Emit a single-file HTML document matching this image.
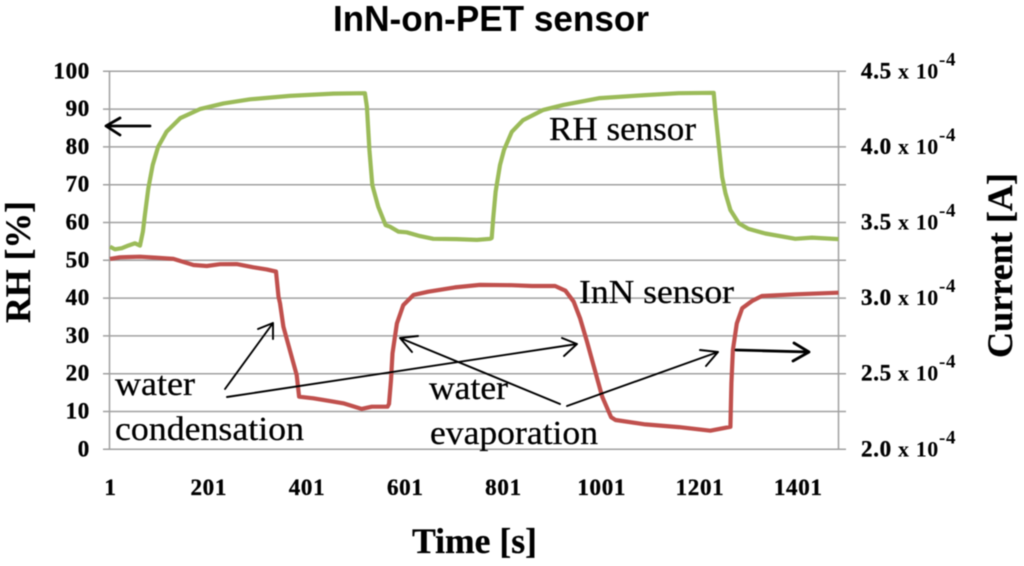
<!DOCTYPE html>
<html lang="en">
<head>
<meta charset="utf-8">
<title>InN-on-PET sensor</title>
<style>
html,body{margin:0;padding:0;background:#fff;width:1024px;height:566px;overflow:hidden}
svg{display:block;filter:blur(.45px)}
text{fill:#000}
.tick{font:bold 23px "Liberation Serif",serif;letter-spacing:.7px;stroke:#000;stroke-width:.35px}
.note{font:34px "Liberation Serif",serif;stroke:#000;stroke-width:.25px}
.axt{font:bold 36px "Liberation Serif",serif;stroke:#000;stroke-width:.3px}
</style>
</head>
<body>
<svg id="chart" xmlns="http://www.w3.org/2000/svg" width="1024" height="566" viewBox="0 0 1024 566">
  <text x="333" y="31" textLength="316" lengthAdjust="spacingAndGlyphs" style="font:bold 36px 'Liberation Sans',sans-serif">InN-on-PET sensor</text>
  <g id="grid"></g>
  <g id="axes"></g>
  <g id="series"></g>
  <text class="axt" transform="translate(30,323) rotate(-90)" textLength="122" lengthAdjust="spacingAndGlyphs">RH [%]</text>
  <text class="axt" transform="translate(1012,358) rotate(-90)" textLength="185" lengthAdjust="spacingAndGlyphs">Current [A]</text>
  <text class="axt" x="412" y="553" textLength="125" lengthAdjust="spacingAndGlyphs">Time [s]</text>
  <text class="note" x="549" y="140" textLength="147" lengthAdjust="spacingAndGlyphs">RH sensor</text>
  <text class="note" x="579" y="303" textLength="155" lengthAdjust="spacingAndGlyphs">InN sensor</text>
  <text class="note" x="115" y="395" textLength="80" lengthAdjust="spacingAndGlyphs">water</text>
  <text class="note" x="115" y="440" textLength="189" lengthAdjust="spacingAndGlyphs">condensation</text>
  <text class="note" x="429" y="399" textLength="79" lengthAdjust="spacingAndGlyphs">water</text>
  <text class="note" x="430" y="444" textLength="168" lengthAdjust="spacingAndGlyphs">evaporation</text>
  <g fill="none" stroke="#000" stroke-linecap="round" stroke-linejoin="round">
    <path stroke-width="2.8" d="M150 126H106M120 118L106 126L120 135"/>
    <path stroke-width="1.9" d="M225 389L273 323M258 329L273 323L273 339"/>
    <path stroke-width="1.9" d="M227 397L577 344M562 338L577 344L564 356"/>
    <path stroke-width="1.9" d="M560 404L400 338M418 336L400 338L412 352"/>
    <path stroke-width="1.9" d="M567 406L718 352M700 350L718 352L706 366"/>
    <path stroke-width="2.8" d="M736 350L809 352M794 343L809 352L793 361"/>
  </g>
</svg>
<script>
const rhTicks = [0, 10, 20, 30, 40, 50, 60, 70, 80, 90, 100];
const currentTicks = ["2.0", "2.5", "3.0", "3.5", "4.0", "4.5"];
const timeTicks = [1, 201, 401, 601, 801, 1001, 1201, 1401];

const rhTime = [2, 12, 26, 39, 53, 63, 69, 73, 80, 89, 100, 117, 145, 185, 233, 287, 368, 457, 521, 525, 530, 536, 548, 563, 572, 589, 606, 633, 660, 708, 749, 776, 779, 782, 787, 796, 804, 820, 843, 884, 925, 999, 1092, 1160, 1231, 1234, 1241, 1248, 1255, 1265, 1282, 1302, 1336, 1397, 1431, 1485];
const rhValues = [53.6, 52.9, 53.2, 53.9, 54.5, 53.9, 57.6, 62, 69, 75.2, 80, 84, 87.6, 90, 91.5, 92.6, 93.5, 94.1, 94.2, 90.6, 79.2, 69.9, 64.2, 59.3, 58.9, 57.6, 57.4, 56.4, 55.7, 55.6, 55.4, 55.7, 55.9, 61.1, 68.1, 75.2, 79.2, 84, 87.1, 89.8, 91.1, 92.9, 93.7, 94.2, 94.3, 89.8, 81, 72.1, 67.7, 63.3, 59.8, 58.3, 57.1, 55.7, 56, 55.6];

const currentTime = [2, 22, 63, 97, 131, 172, 199, 226, 260, 294, 321, 340, 345, 348, 355, 368, 382, 387, 416, 450, 477, 514, 535, 567, 570, 574, 577, 586, 599, 620, 650, 704, 755, 820, 861, 908, 929, 946, 959, 973, 987, 1004, 1022, 1031, 1092, 1160, 1224, 1265, 1267, 1270, 1278, 1289, 1309, 1329, 1397, 1485];
const currentValues = [3.259, 3.270, 3.274, 3.267, 3.259, 3.219, 3.212, 3.224, 3.225, 3.204, 3.190, 3.175, 3.009, 2.966, 2.811, 2.657, 2.491, 2.348, 2.337, 2.319, 2.304, 2.267, 2.282, 2.282, 2.300, 2.458, 2.635, 2.833, 2.954, 3.021, 3.042, 3.071, 3.087, 3.085, 3.080, 3.080, 3.049, 2.976, 2.866, 2.712, 2.546, 2.348, 2.212, 2.194, 2.165, 2.147, 2.123, 2.149, 2.437, 2.657, 2.833, 2.933, 2.981, 3.014, 3.025, 3.036];

const SVG_NS = "http://www.w3.org/2000/svg";
const plotLeft = 109.5, plotRight = 838.5, plotTop = 71.3, plotBottom = 449.3;
const timeMax = 1485;

function xScale(t) { return plotLeft + (t - 1) / (timeMax - 1) * (plotRight - plotLeft); }
function yLeft(v) { return plotBottom - v / 100 * (plotBottom - plotTop); }
function yRight(v) { return plotBottom - (v - 2) / 2.5 * (plotBottom - plotTop); }

function make(tag, parent, attrs, content) {
  const el = document.createElementNS(SVG_NS, tag);
  for (const k in attrs) el.setAttribute(k, attrs[k]);
  if (content !== undefined) el.textContent = content;
  parent.appendChild(el);
  return el;
}

const gridGroup = document.getElementById("grid");
const axesGroup = document.getElementById("axes");
const seriesGroup = document.getElementById("series");

rhTicks.forEach(function (v) {
  const y = yLeft(v);
  const line = make("line", gridGroup, { x1: 103, x2: 846, y1: y, y2: y, stroke: "#a0a0a0", "stroke-width": 1.5 });
  
  
  const label = make("text", axesGroup, { x: 90, y: y + 7, "text-anchor": "end", class: "tick" }, String(v));
  
  
});

[plotLeft, plotRight].forEach(function (x) {
  const line = make("line", axesGroup, { x1: x, x2: x, y1: plotTop, y2: plotBottom, stroke: "#a0a0a0", "stroke-width": 1.5 });
  
  
});

timeTicks.forEach(function (t) {
  const label = make("text", axesGroup, { x: xScale(t) + 1, y: 495, "text-anchor": "middle", class: "tick" }, String(t));
  
  
});

currentTicks.forEach(function (v) {
  const y = yRight(parseFloat(v));
  const group = make("g", axesGroup, {});
  
  
  make("text", group, { x: 861, y: y + 7, class: "tick" }, v);
  make("text", group, { x: 898, y: y + 7, class: "tick", style: "font-size:22px;letter-spacing:.6px;stroke-width:0" }, "x 10");
  make("text", group, { x: 939, y: y - 6, class: "tick", style: "font-size:19px;stroke-width:0" }, "-4");
});

function seriesPath(times, values, yFn) {
  return times.map(function (t, i) {
    return (i ? "L" : "M") + xScale(t).toFixed(1) + " " + yFn(values[i]).toFixed(1);
  }).join("");
}

const rhLine = make("path", seriesGroup, { d: seriesPath(rhTime, rhValues, yLeft), fill: "none", stroke: "#9BBB59", "stroke-width": 4.2, "stroke-linejoin": "round" });



const currentLine = make("path", seriesGroup, { d: seriesPath(currentTime, currentValues, yRight), fill: "none", stroke: "#C0504D", "stroke-width": 4.2, "stroke-linejoin": "round" });


</script>
</body>
</html>
